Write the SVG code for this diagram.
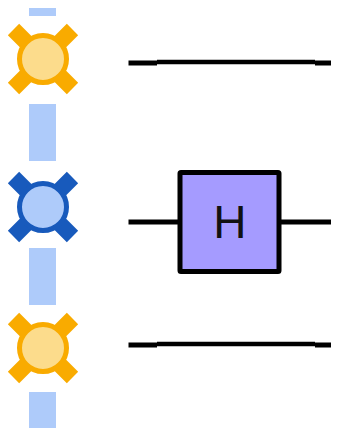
<svg xmlns="http://www.w3.org/2000/svg" width="337" height="428" viewBox="0 0 337 428">
<style>
.bar{fill:#aecbfa}
.arm{stroke-width:16;stroke-linecap:butt;fill:none}
.y .arm{stroke:#f9ab00}
.b .arm{stroke:#185abc}
.y circle{fill:#fcdc8c;stroke:#f9ab00;stroke-width:5}
.b circle{fill:#aecbfa;stroke:#185abc;stroke-width:5}
.w{stroke:#000;fill:none}
</style>
<g id="connectors">
<rect class="bar" x="29" y="8" width="27" height="8"/>
<rect class="bar" x="29" y="104" width="27" height="57"/>
<rect class="bar" x="29" y="248" width="27" height="57"/>
<rect class="bar" x="29" y="392" width="27" height="36"/>
<path class="w" stroke-width="5" d="M128.500 63H157M315 63H331"/>
<path class="w" stroke-width="4.500" d="M157 62H315"/>
<path class="w" stroke-width="5" d="M128.500 222H180M279 222H331"/>
<path class="w" stroke-width="5" d="M128.500 345H157M315 345H331"/>
<path class="w" stroke-width="4.500" d="M157 344H315"/>
</g>
<g id="node-q0" class="y">
<path class="arm" d="M13.500 29.500L72.500 88.500M72.500 29.500L13.500 88.500"/>
<circle cx="43" cy="59" r="23.500"/>
</g>
<g id="node-q1" class="b">
<path class="arm" d="M13.500 177.500L72.500 236.500M72.500 177.500L13.500 236.500"/>
<circle cx="43" cy="207" r="23.500"/>
</g>
<g id="node-q2" class="y">
<path class="arm" d="M13.500 318.500L72.500 377.500M72.500 318.500L13.500 377.500"/>
<circle cx="43" cy="348" r="23.500"/>
</g>
<g id="gate-h">
<rect x="180" y="172.500" width="99" height="99" rx="1" fill="#a59bff" stroke="#000" stroke-width="5"/>
<text x="229.800" y="238" text-anchor="middle" font-family="'Liberation Sans',Arial,sans-serif" font-size="46" fill="#111">H</text>
</g>
</svg>
